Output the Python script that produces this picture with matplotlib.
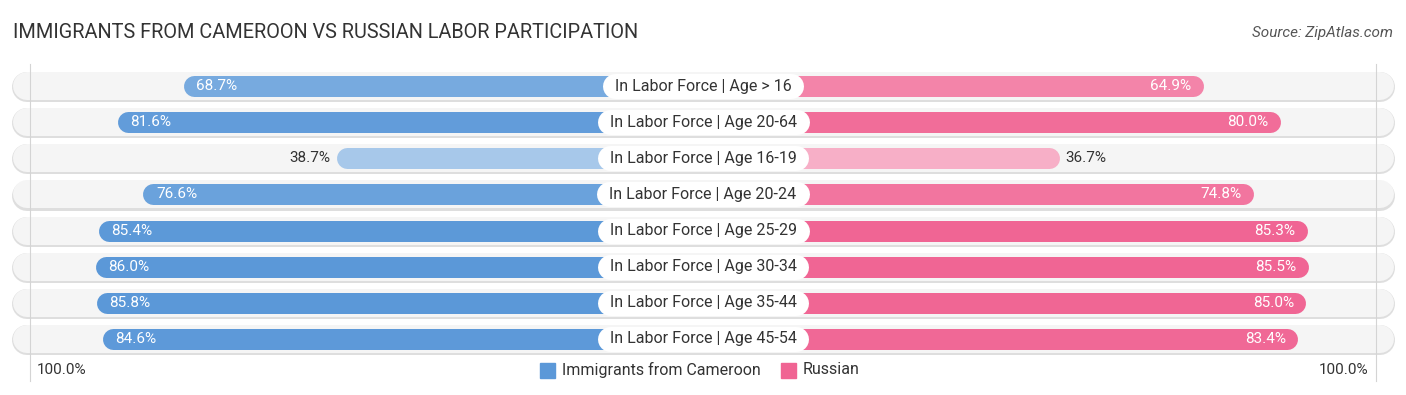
import numpy as np
import matplotlib
matplotlib.use('Agg')
import matplotlib.pyplot as plt
from matplotlib.patches import Rectangle

plt.rcParams['font.family'] = ['Roboto', 'DejaVu Sans']

## data
categories = ['In Labor Force | Age > 16', 'In Labor Force | Age 20-64',
              'In Labor Force | Age 16-19', 'In Labor Force | Age 20-24',
              'In Labor Force | Age 25-29', 'In Labor Force | Age 30-34',
              'In Labor Force | Age 35-44', 'In Labor Force | Age 45-54']
cameroon = [68.7, 81.6, 38.7, 76.6, 85.4, 86.0, 85.8, 84.6]
russian = [64.9, 80.0, 36.7, 74.8, 85.3, 85.5, 85.0, 83.4]
series_names = ['Immigrants from Cameroon', 'Russian']

title = 'IMMIGRANTS FROM CAMEROON VS RUSSIAN LABOR PARTICIPATION'
source = 'Source: ZipAtlas.com'

blue = np.array([0x5b, 0x98, 0xd8]) / 255
pink = np.array([0xf0, 0x64, 0x93]) / 255

W, H = 1406, 395
fig = plt.figure(figsize=(W / 100, H / 100), dpi=100)
ax = fig.add_axes([0, 0, 1, 1])
ax.axis('off')

k = 5.096      # px per percent
gap = 33.3     # hidden part of bar behind the label
ax.set_xlim(-703 / k, 703 / k)
row_h = 36.14
ax.set_ylim((395 - 86) / row_h, -86 / row_h)

px = 0.72  # points per pixel
xr = lambda p: p / k  # px -> x units


def shade(base, v):
    t = 0.45 + 0.55 * (v - 30) / 56
    t = min(max(t, 0), 1)
    return tuple(1 - t * (1 - base))


# 100% guide lines
for s in (-1, 1):
    ax.plot([s * 132.1, s * 132.1], [-0.6, 8.15], color='#d4d4d4', lw=0.8, zorder=1.5)

track_end = 703 / k - xr(12) - xr(14.5)
for i, cat in enumerate(categories):
    # background track
    ax.plot([-track_end, track_end], [i + 0.03, i + 0.03], color='#dedede', lw=30 * px,
            solid_capstyle='round', zorder=1)
    ax.plot([-track_end, track_end], [i, i], color='#f5f5f5', lw=28 * px,
            solid_capstyle='round', zorder=1)

    r = xr(10.5)
    vl, vr = cameroon[i], russian[i]
    ax.plot([0, -(gap + vl) + r], [i, i], color=shade(blue, vl), lw=21 * px,
            solid_capstyle='round', zorder=2)
    ax.plot([0, (gap + vr) - r], [i, i], color=shade(pink, vr), lw=21 * px,
            solid_capstyle='round', zorder=2)

    if vl > 50:
        ax.text(-(gap + vl) + xr(13), i, f'{vl:.1f}%', ha='left', va='center',
                color='white', fontsize=11, zorder=4)
    else:
        ax.text(-(gap + vl) - xr(6), i, f'{vl:.1f}%', ha='right', va='center',
                color='#333333', fontsize=11, zorder=4)
    if vr > 50:
        ax.text((gap + vr) - xr(12), i, f'{vr:.1f}%', ha='right', va='center',
                color='white', fontsize=11, zorder=4)
    else:
        ax.text((gap + vr) + xr(6), i, f'{vr:.1f}%', ha='left', va='center',
                color='#333333', fontsize=11, zorder=4)

    ax.text(0, i, cat, ha='center', va='center', fontsize=11.5, color='#333333', zorder=5)

# white pills behind the category labels
fig.canvas.draw()
inv = ax.transData.inverted()
for t in list(ax.texts):
    if t.get_text() in categories:
        bb = t.get_window_extent()
        x0 = inv.transform((bb.x0, 0))[0]
        x1 = inv.transform((bb.x1, 0))[0]
        y = t.get_position()[1]
        ax.plot([x0, x1], [y, y], color='white', lw=25 * px, solid_capstyle='round', zorder=3)

# legend
ly = (370 - 86) / row_h
ax.text(-132.1 + xr(7), ly, '100.0%', ha='left', va='center', fontsize=11, color='#333333')
ax.text(132.1 - xr(8), ly, '100.0%', ha='right', va='center', fontsize=11, color='#333333')
sq = 15
ax.add_patch(Rectangle((xr(540 - 703), ly - sq / 2 / row_h), xr(sq), sq / row_h,
                       color=tuple(blue), zorder=3))
ax.text(xr(562 - 703), ly, series_names[0], ha='left', va='center', fontsize=11.5, color='#333333')
ax.add_patch(Rectangle((xr(781 - 703), ly - sq / 2 / row_h), xr(sq), sq / row_h,
                       color=tuple(pink), zorder=3))
ax.text(xr(803 - 703), ly, series_names[1], ha='left', va='center', fontsize=11.5, color='#333333')

fig.text(13 / W, 1 - 33 / H, title, ha='left', va='center', fontsize=14.3, color='#333333')
fig.text(1393 / W, 1 - 33 / H, source, ha='right', va='center', fontsize=11,
         color='#555555', style='italic')

fig.savefig('out.png', dpi=100)
